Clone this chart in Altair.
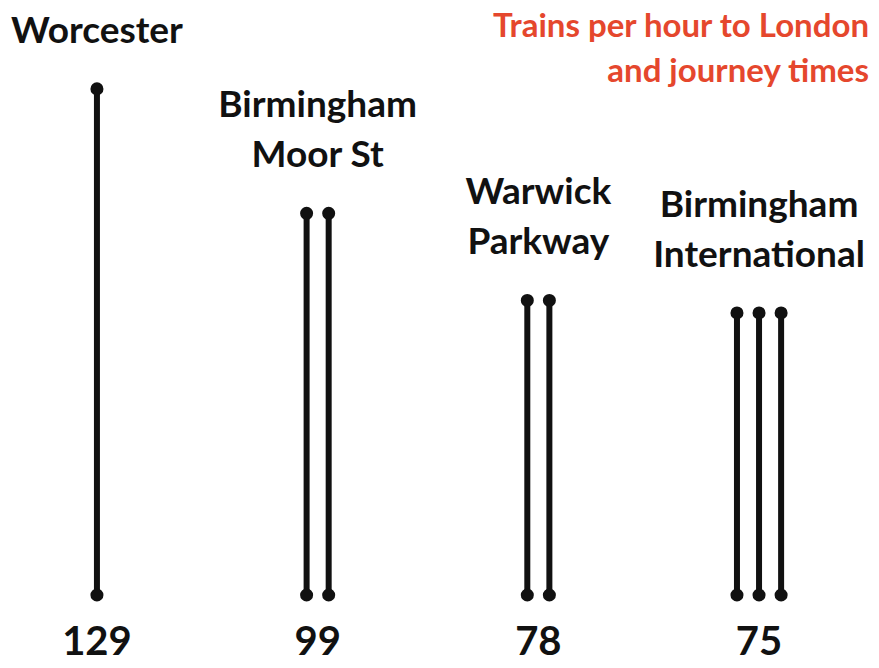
import altair as alt
import pandas as pd

# ---- data ----
stations = ["Worcester", "Birmingham Moor St", "Warwick Parkway", "Birmingham International"]
name_top_line = ["", "Birmingham", "Warwick", "Birmingham"]
name_bottom_line = ["Worcester", "Moor St", "Parkway", "International"]
trains_per_hour = [1, 2, 2, 3]
journey_minutes = [129, 99, 78, 75]
title_lines = ["Trains per hour to London", "and journey times"]

# ---- layout / style parameters ----
BASE = 7            # minute value at which every line starts (bottom dot)
GAP = 10            # x units between station centres (1 unit = spacing of lines)
W, H = 863, 652
PX_PER_UNIT = 22.07
X0 = -4.03
INK = "#111111"
RED = "#E5472D"
FONT = "Lato"

rows = []
for i, (s, n, t) in enumerate(zip(stations, trains_per_hour, journey_minutes)):
    for k in range(n):
        rows.append({"station": s, "x": i * GAP + k - (n - 1) / 2, "time": t, "base": BASE})
lines = pd.DataFrame(rows)
labels = pd.DataFrame({
    "station": stations,
    "top_line": name_top_line,
    "bottom_line": name_bottom_line,
    "x": [i * GAP for i in range(len(stations))],
    "time": journey_minutes,
    "base": BASE,
})
title_df = pd.DataFrame({"t": ["\n".join(title_lines)]})

xs = alt.Scale(domain=[X0, X0 + W / PX_PER_UNIT], nice=False, zero=False)
ys = alt.Scale(domain=[-8.67, 148.5], nice=False, zero=False)
X = alt.X("x:Q", scale=xs, axis=None)
YT = alt.Y("time:Q", scale=ys, axis=None)
YB = alt.Y("base:Q", scale=ys, axis=None)

rules = alt.Chart(lines).mark_rule(color=INK, strokeWidth=6).encode(x=X, y=YT, y2="base:Q")
tops = alt.Chart(lines).mark_point(filled=True, color=INK, size=170, opacity=1).encode(x=X, y=YT)
bottoms = alt.Chart(lines).mark_point(filled=True, color=INK, size=170, opacity=1).encode(x=X, y=YB)

name_style = dict(font=FONT, fontWeight="bold", fontSize=37, color=INK, align="center", baseline="bottom")
names_bottom = alt.Chart(labels).mark_text(dy=-38, **name_style).encode(x=X, y=YT, text="bottom_line:N")
names_top = alt.Chart(labels).mark_text(dy=-88, **name_style).encode(x=X, y=YT, text="top_line:N")

nums = alt.Chart(labels).mark_text(
    font=FONT, fontWeight="bold", fontSize=40, color=INK, align="center",
    baseline="middle", dy=48
).encode(x=X, y=YB, text="time:Q")

title = alt.Chart(title_df).mark_text(
    font=FONT, fontWeight="bold", fontSize=33, color=RED, align="right",
    baseline="top", lineBreak="\n", lineHeight=45
).encode(x=alt.value(W - 2), y=alt.value(3), text="t:N")

chart = alt.layer(rules, tops, bottoms, names_bottom, names_top, nums, title).properties(
    width=W, height=H, autosize=alt.AutoSizeParams(type="none"), padding=0
).configure(background="white").configure_view(stroke=None)

chart.save("out.html", embed_options={"renderer": "svg", "actions": False})
